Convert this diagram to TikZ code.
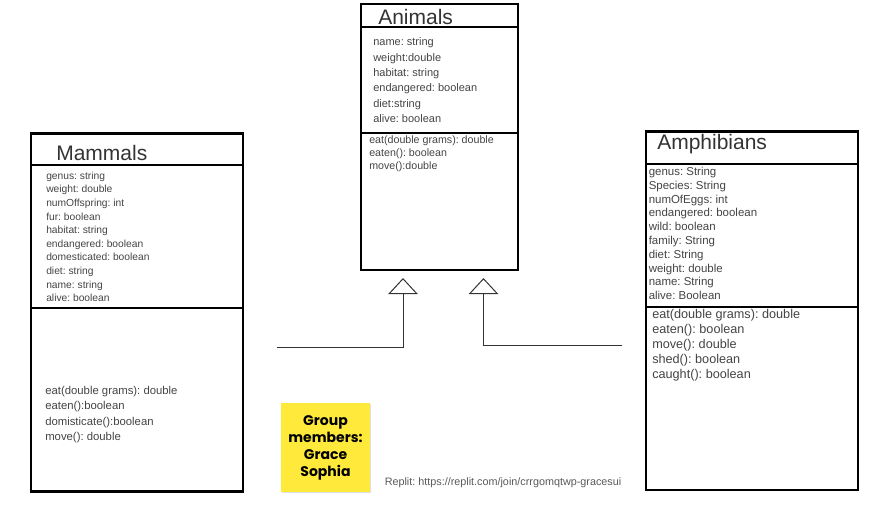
\documentclass[tikz,border=0pt]{standalone}
\usepackage{fontspec}
\setmainfont{Liberation Sans}
\newfontfamily\notefont{Poppins}
\usetikzlibrary{arrows.meta,shadows}
\definecolor{txtgray}{HTML}{444444}
\definecolor{noteyellow}{HTML}{FFE93B}
\frenchspacing

\begin{document}
\begin{tikzpicture}[x=0.75pt,y=-0.75pt,
  classbox/.style={draw=black,line width=1.9pt,inner sep=0pt,outer sep=0pt,anchor=north west},
  divider/.style={draw=black,line width=1.9pt},
  classname/.style={anchor=north west,inner sep=0pt,text=black!80,font=\fontsize{15.75}{18}\selectfont},
  members/.style={anchor=north west,inner sep=0pt,align=left,text=txtgray},
  inherit/.style={draw=black!80,line width=0.75pt,-{Triangle[open,length=12pt,width=22pt]}}]

\useasboundingbox (0,0) rectangle (885,507);

% Animals
\node[classbox,minimum width=117.75pt,minimum height=199.5pt] (animals) at (361,4) {};
\draw[divider] (animals.west |- 0,27) -- (animals.east |- 0,27);
\draw[divider] (animals.west |- 0,133) -- (animals.east |- 0,133);
\node[classname] (animalsname) at (378,9) {Animals};
\node[members,font=\fontsize{8.25}{11.5}\selectfont] (animalsattr) at (373,37.5)
  {name: string\\weight:double\\habitat: string\\endangered: boolean\\diet:string\\alive: boolean};
\node[members,font=\fontsize{8}{9.4}\selectfont] (animalsops) at (369,136)
  {eat(double grams): double\\eaten(): boolean\\move():double};

% Mammals
\node[classbox,minimum width=159pt,minimum height=268.5pt] (mammals) at (31,133.5) {};
\draw[divider] (mammals.west |- 0,165) -- (mammals.east |- 0,165);
\draw[divider] (mammals.west |- 0,308) -- (mammals.east |- 0,308);
\node[classname] (mammalsname) at (56,145) {Mammals};
\node[members,font=\fontsize{7.7}{10.2}\selectfont] (mammalsattr) at (46,171.5)
  {genus: string\\weight: double\\numOffspring: int\\fur: boolean\\habitat: string\\endangered: boolean\\domesticated: boolean\\diet: string\\name: string\\alive: boolean};
\node[members,font=\fontsize{8.5}{11.5}\selectfont] (mammalsops) at (45,386)
  {eat(double grams): double\\eaten():boolean\\domisticate():boolean\\move(): double};

% Amphibians
\node[classbox,minimum width=159pt,minimum height=269pt] (amphibians) at (646,131.5) {};
\draw[divider] (amphibians.west |- 0,164) -- (amphibians.east |- 0,164);
\draw[divider] (amphibians.west |- 0,307) -- (amphibians.east |- 0,307);
\node[classname] (amphibiansname) at (657,134) {Amphibians};
\node[members,font=\fontsize{8.6}{10.35}\selectfont] (amphibiansattr) at (648.5,167)
  {genus: String\\Species: String\\numOfEggs: int\\endangered: boolean\\wild: boolean\\family: String\\diet: String\\weight: double\\name: String\\alive: Boolean};
\node[members,font=\fontsize{9.5}{11.1}\selectfont] (amphibiansops) at (652,309.5)
  {eat(double grams): double\\eaten(): boolean\\move(): double\\shed(): boolean\\caught(): boolean};

% inheritance
\coordinate (mammalslink) at (276.5,347);
\coordinate (animalsleft) at (403,278);
\coordinate (amphibianslink) at (622,345);
\coordinate (animalsright) at (483.5,278);
\draw[inherit] (mammalslink) -| (animalsleft);
\draw[inherit] (amphibianslink) -| (animalsright);

% note
\node[fill=noteyellow,minimum width=66.75pt,minimum height=66.4pt,align=center,
  drop shadow={opacity=0.25,shadow xshift=0.8pt,shadow yshift=-0.8pt},
  font=\notefont\bfseries\fontsize{10.5}{12.75}\selectfont] (group) at (325.5,447.5)
  {Group\\members:\\Grace\\Sophia};
\node[anchor=base west,inner sep=0pt,text=black!65,font=\fontsize{8.1}{9.7}\selectfont] (replit) at (384.5,485.5)
  {Replit: https://replit.com/join/crrgomqtwp-gracesui};
\end{tikzpicture}
\end{document}
